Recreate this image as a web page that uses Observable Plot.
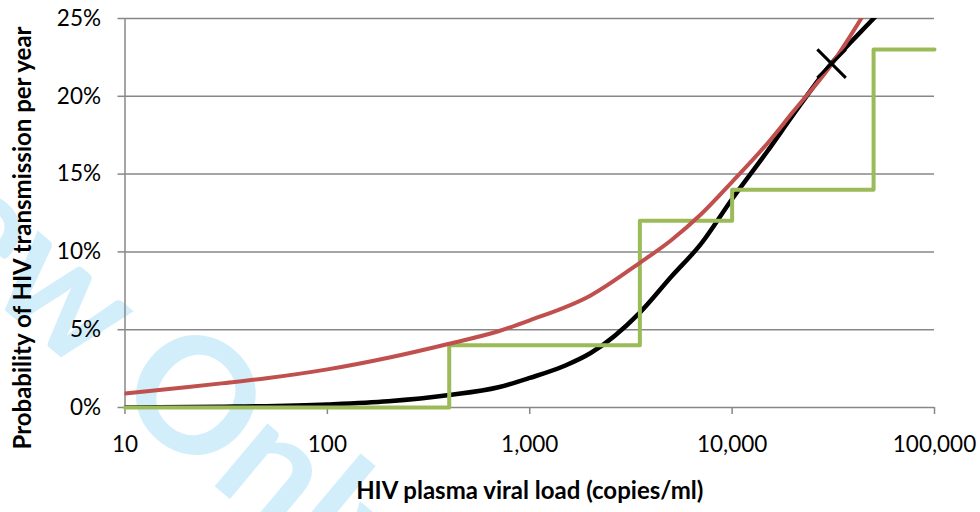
<!DOCTYPE html>
<html>
<head>
<meta charset="utf-8">
<script src="https://cdn.jsdelivr.net/npm/d3@7"></script>
<script src="https://cdn.jsdelivr.net/npm/@observablehq/plot@0.6"></script>
<style>
  html, body { margin: 0; padding: 0; background: #fff; }
  #chart { width: 980px; height: 512px; }
</style>
</head>
<body>
<div id="chart"></div>
<script>
// ---- Data ----
const xTicks = [10, 100, 1000, 10000, 100000];
const yTicks = [0, 0.05, 0.10, 0.15, 0.20, 0.25];

// Black curve
const blackX = [10, 30, 100, 200, 400, 700, 1000, 1500, 2000, 3500, 5000, 7000, 10000, 15000, 20000, 30000, 50000, 70000];
const blackY = [0.000, 0.0005, 0.002, 0.004, 0.008, 0.013, 0.019, 0.027, 0.035, 0.061, 0.084, 0.105, 0.134, 0.165, 0.188, 0.219, 0.250, 0.270];

// Red curve
const redX = [10, 20, 30, 50, 100, 200, 400, 700, 1000, 2000, 3500, 5000, 7000, 10000, 15000, 20000, 30000, 50000];
const redY = [0.009, 0.013, 0.0155, 0.0188, 0.0245, 0.032, 0.041, 0.049, 0.056, 0.072, 0.093, 0.1075, 0.124, 0.145, 0.170, 0.190, 0.218, 0.263];

// Green step function
const greenX = [10, 400, 3500, 10000, 50000, 100000];
const greenY = [0.00, 0.04, 0.12, 0.14, 0.23, 0.23];

// Cross marker
const markX = [31000];
const markY = [0.221];

const yTitle = "Probability of HIV transmission per year";
const xTitle = "HIV plasma viral load (copies/ml)";
const watermark = "Review Only";

const black = blackX.map((x, i) => ({x, y: blackY[i]}));
const red = redX.map((x, i) => ({x, y: redY[i]}));
const green = greenX.map((x, i) => ({x, y: greenY[i]}));
const mark = markX.map((x, i) => ({x, y: markY[i]}));

const gridColor = "#878787";

const chart = Plot.plot({
  width: 980,
  height: 512,
  marginTop: 18,
  marginBottom: 105,
  marginLeft: 124.5,
  marginRight: 46,
  style: {fontFamily: "Lato, 'Open Sans', sans-serif", background: "#fff", color: "#000", overflow: "hidden"},
  x: {type: "log", domain: [10, 100000]},
  y: {domain: [0, 0.25]},
  marks: [
    Plot.text([watermark], {frameAnchor: "top-left", dx: -64, dy: 272, rotate: 40, fontSize: 160, fontWeight: "bold", fill: "#d3eefb", textAnchor: "middle", lineAnchor: "middle"}),
    Plot.gridY(yTicks, {stroke: gridColor, strokeOpacity: 1, strokeWidth: 1.5}),
    Plot.ruleX([10], {stroke: gridColor, strokeWidth: 1.5}),
    Plot.axisY(yTicks, {tickSize: 7, tickPadding: 17, stroke: gridColor, strokeWidth: 1.5, fill: "#000", fontSize: 22.5, tickFormat: d3.format(".0%"), label: null}),
    Plot.axisX(xTicks, {tickSize: 7, tickPadding: 22, stroke: gridColor, strokeWidth: 1.5, fill: "#000", fontSize: 22.5, tickFormat: d3.format(","), label: null}),
    Plot.line(black, {x: "x", y: "y", stroke: "#000", strokeWidth: 4.5, curve: "monotone-x", clip: true}),
    Plot.line(green, {x: "x", y: "y", stroke: "#9bbb59", strokeWidth: 4, curve: "step-after"}),
    Plot.line(red, {x: "x", y: "y", stroke: "#c0504d", strokeWidth: 4, curve: "monotone-x", clip: true}),
    Plot.dot(mark, {x: "x", y: "y", symbol: "times", r: 13, stroke: "#000", strokeWidth: 3}),
    Plot.text([yTitle], {frameAnchor: "left", dx: -102, dy: 25, rotate: -90, textAnchor: "middle", fontSize: 24, fontWeight: "bold", fill: "#000"}),
    Plot.text([xTitle], {frameAnchor: "bottom", dy: 91, textAnchor: "middle", fontSize: 24, fontWeight: "bold", fill: "#000"})
  ]
});
document.getElementById("chart").appendChild(chart);
</script>
</body>
</html>
